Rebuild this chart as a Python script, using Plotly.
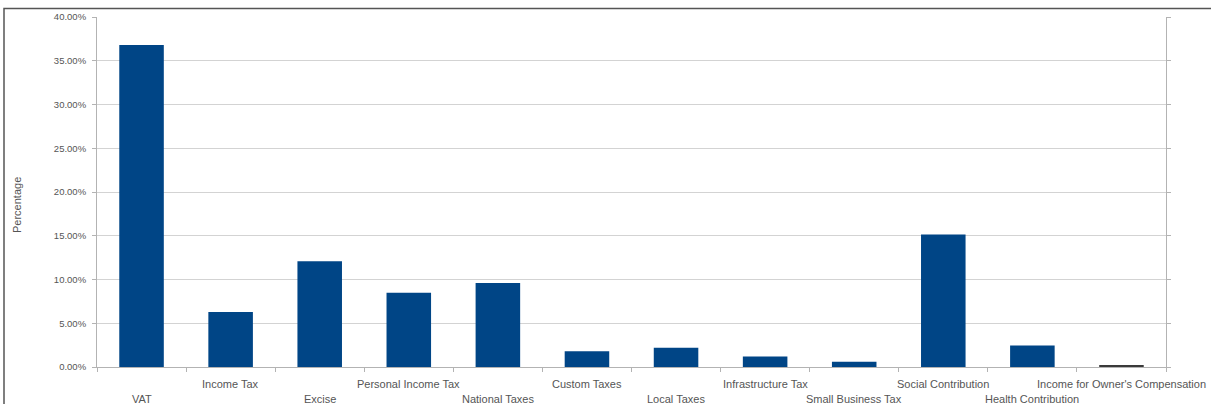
import plotly.graph_objects as go

categories = ["VAT", "Income Tax", "Excise", "Personal Income Tax", "National Taxes",
              "Custom Taxes", "Local Taxes", "Infrastructure Tax", "Small Business Tax",
              "Social Contribution", "Health Contribution", "Income for Owner's Compensation"]
values = [0.368, 0.063, 0.121, 0.085, 0.096, 0.018, 0.022, 0.012, 0.006, 0.1515, 0.0245, 0.002]
bar_colors = ["#004586"] * 11 + ["#3a3a3a"]
y_title = "Percentage"

fig = go.Figure()
fig.add_trace(go.Bar(x=categories, y=values, marker=dict(color=bar_colors, line=dict(width=0)),
                     width=0.5, showlegend=False))

W, H = 1211, 404
L, R, T, B = 97, 45, 17, 37
pw, ph = W - L - R, H - T - B


def py(pix):
    """pixel row -> paper y"""
    return (H - B - pix) / ph


annotations = []
for i, c in enumerate(categories):
    annotations.append(dict(
        x=c, xref="x", y=py(399 if i % 2 == 0 else 384), yref="paper",
        text=c, showarrow=False, xanchor="center", yanchor="middle",
        font=dict(size=11, color="#555555"),
    ))
annotations.append(dict(
    x=(17 - L) / pw, xref="paper", y=py(205), yref="paper",
    text=y_title, textangle=-90, showarrow=False, xanchor="center", yanchor="middle",
    font=dict(size=11, color="#555555"),
))

fig.update_layout(
    width=W, height=H,
    margin=dict(l=L, r=R, t=T, b=B),
    paper_bgcolor="white", plot_bgcolor="white",
    font=dict(family="Liberation Sans, Arial, sans-serif", size=9, color="#555555"),
    xaxis=dict(
        range=[-0.5, len(categories) - 0.5], autorange=False,
        showticklabels=False, showgrid=False, showline=True, linecolor="#b3b3b3", linewidth=1,
        ticks="outside", ticklen=4, tickcolor="#b3b3b3", tickson="boundaries",
    ),
    yaxis=dict(
        range=[0, 0.4], dtick=0.05, tickformat=".2%",
        showgrid=True, gridcolor="#d3d3d3", gridwidth=1,
        showline=True, linecolor="#b3b3b3", linewidth=1, mirror="ticks",
        ticks="outside", ticklen=4, tickcolor="#b3b3b3",
        ticklabelstandoff=4,
        tickfont=dict(size=9.5, color="#555555"),
        zeroline=False,
    ),
    annotations=annotations,
    shapes=[dict(
        type="rect", xref="paper", yref="paper",
        x0=(4 - L) / pw, x1=(W + 2 - L) / pw,
        y0=py(H + 2), y1=py(8.5),
        line=dict(color="#555555", width=1.5), fillcolor="rgba(0,0,0,0)", layer="below",
    )],
)

fig.write_html("out.html")
